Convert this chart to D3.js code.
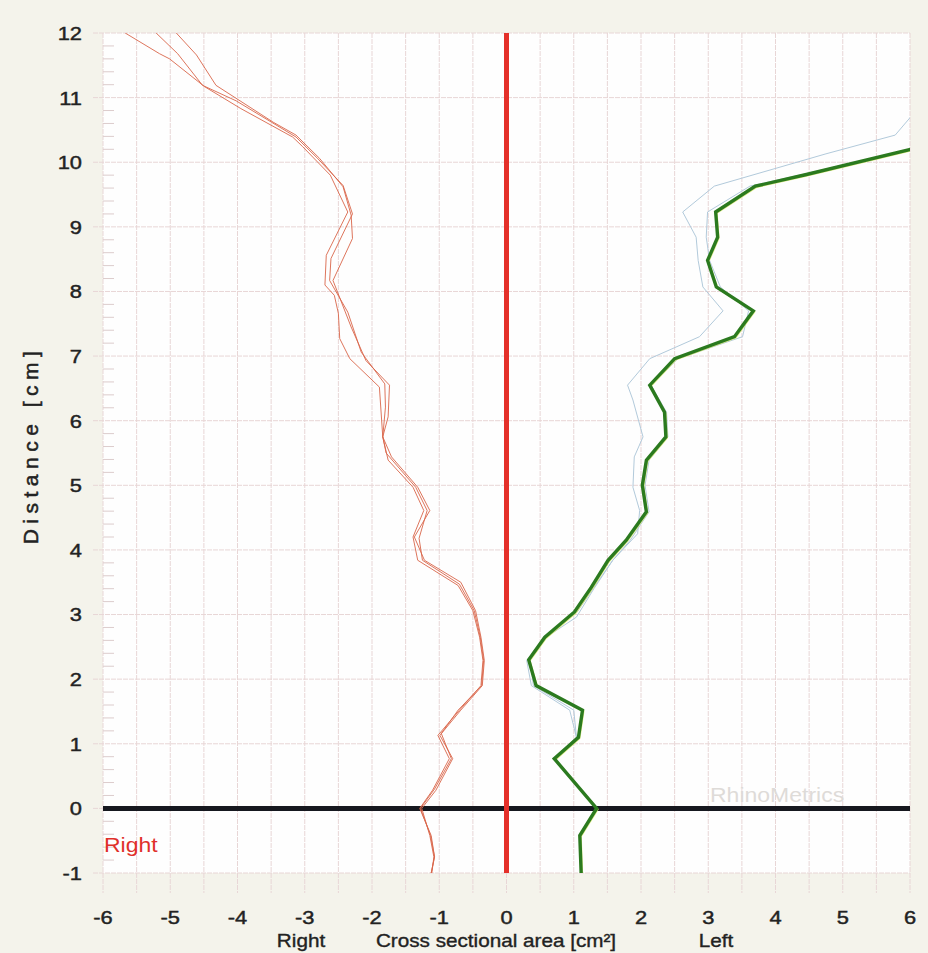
<!DOCTYPE html>
<html>
<head>
<meta charset="utf-8">
<script src="https://cdn.jsdelivr.net/npm/d3@7"></script>
<style>
  html, body { margin: 0; padding: 0; background: #f4f3eb; }
  svg { display: block; }
  text { font-family: "Liberation Sans", Arial, sans-serif; }
</style>
</head>
<body>
<div id="chart"></div>
<script>
// x ticks (cross sectional area, cm²) and y ticks (distance, cm)
const areaTicks = [-6, -5, -4, -3, -2, -1, 0, 1, 2, 3, 4, 5, 6];
const distanceTicks = [-1, 0, 1, 2, 3, 4, 5, 6, 7, 8, 9, 10, 11, 12];

// right side, three thin red measurements: [area, distance]
const right1 = [[-5.67,12.0],[-5.16,11.68],[-5.01,11.60],[-4.49,11.17],[-3.95,10.83],[-3.18,10.39],[-3.03,10.24],[-2.62,9.80],[-2.36,9.23],[-2.68,8.56],[-2.70,8.10],[-2.56,7.94],[-2.50,7.66],[-2.48,7.27],[-2.33,6.96],[-1.89,6.52],[-1.84,5.75],[-1.76,5.39],[-1.39,4.97],[-1.23,4.61],[-1.39,4.20],[-1.32,3.84],[-0.72,3.45],[-0.50,3.06],[-0.40,2.65],[-0.35,2.29],[-0.38,1.90],[-0.70,1.52],[-1.02,1.13],[-0.85,0.77],[-1.10,0.28],[-1.29,0.0],[-1.12,-0.42],[-1.07,-0.75],[-1.12,-1.0]];
const right2 = [[-5.21,12.0],[-4.89,11.68],[-4.52,11.19],[-4.02,10.95],[-3.13,10.39],[-2.81,10.06],[-2.43,9.64],[-2.29,9.20],[-2.61,8.51],[-2.63,8.17],[-2.36,7.68],[-2.16,7.06],[-1.81,6.57],[-1.80,6.21],[-1.84,5.75],[-1.71,5.44],[-1.32,4.97],[-1.14,4.61],[-1.37,4.20],[-1.22,3.84],[-0.68,3.50],[-0.46,3.06],[-0.38,2.65],[-0.33,2.29],[-0.36,1.90],[-0.68,1.52],[-0.99,1.13],[-0.80,0.77],[-1.05,0.28],[-1.26,0.0],[-1.14,-0.42],[-1.08,-0.75],[-1.11,-1.0]];
const right3 = [[-4.91,12.0],[-4.61,11.66],[-4.32,11.19],[-3.47,10.62],[-3.13,10.42],[-2.78,10.06],[-2.43,9.62],[-2.31,9.18],[-2.29,8.82],[-2.58,8.17],[-2.31,7.45],[-2.09,6.93],[-1.74,6.55],[-1.76,6.06],[-1.84,5.75],[-1.79,5.50],[-1.35,4.97],[-1.18,4.61],[-1.30,4.18],[-1.25,3.84],[-0.70,3.47],[-0.48,3.06],[-0.39,2.65],[-0.34,2.29],[-0.37,1.90],[-0.72,1.52],[-0.97,1.16],[-0.82,0.77],[-1.07,0.30],[-1.28,0.0],[-1.13,-0.42],[-1.07,-0.75],[-1.12,-1.0]];

// left side: two thin blue measurements and the bold green one
const leftBlueOuter = [[1.11,-1.0],[1.09,-0.42],[1.34,0.0],[0.71,0.77],[1.04,1.10],[0.94,1.52],[0.37,1.90],[0.30,2.29],[0.59,2.65],[1.04,2.96],[1.30,3.40],[1.58,3.84],[1.95,4.25],[1.98,4.61],[1.88,4.97],[1.90,5.44],[2.03,5.75],[1.88,6.32],[1.80,6.55],[2.13,6.96],[2.87,7.30],[3.22,7.70],[2.92,8.07],[2.85,8.48],[2.82,8.84],[2.62,9.23],[3.09,9.63],[4.75,10.13],[5.78,10.42],[6.05,10.75]];
const leftBlueInner = [[1.11,-1.0],[1.09,-0.42],[1.34,0.0],[0.71,0.77],[1.04,1.10],[1.00,1.52],[0.40,1.90],[0.35,2.30],[0.55,2.65],[1.05,3.04],[1.30,3.42],[1.58,3.84],[1.84,4.15],[2.12,4.59],[2.06,5.0],[2.12,5.39],[2.40,5.75],[2.38,6.13],[2.15,6.55],[2.55,6.96],[3.51,7.30],[3.60,7.70],[3.18,8.07],[3.02,8.48],[2.97,8.84],[2.99,9.23],[3.62,9.63],[4.40,9.81],[6.05,10.21]];
const leftMain = [[1.11,-1.0],[1.09,-0.42],[1.34,0.0],[0.71,0.77],[1.07,1.10],[1.13,1.52],[0.44,1.90],[0.33,2.30],[0.57,2.65],[1.01,3.04],[1.26,3.42],[1.51,3.84],[1.78,4.15],[2.08,4.59],[2.02,5.0],[2.08,5.39],[2.37,5.75],[2.35,6.13],[2.13,6.55],[2.50,6.96],[3.39,7.30],[3.67,7.70],[3.12,8.07],[2.99,8.48],[3.14,8.84],[3.11,9.23],[3.70,9.63],[4.46,9.81],[6.05,10.21]];

const width = 928, height = 953;
const plot = { left: 103, right: 910, top: 33, bottom: 873 };

const svg = d3.select("#chart").append("svg")
    .attr("width", width)
    .attr("height", height);

svg.append("rect").attr("width", width).attr("height", height).attr("fill", "#f4f3eb");

const x = d3.scaleLinear().domain([-6, 6]).range([plot.left, plot.right]);
const y = d3.scaleLinear().domain([-1, 12]).range([plot.bottom, plot.top]);

svg.append("rect")
    .attr("x", plot.left).attr("y", plot.top)
    .attr("width", plot.right - plot.left).attr("height", plot.bottom - plot.top)
    .attr("fill", "#fefefe");

const gridColor = "#e8d6d6";

// vertical grid every 0.5, running a little below the plot
const grid = svg.append("g");
grid.selectAll("line.v")
    .data(d3.range(-12, 13).map(d => d / 2))
    .join("line")
    .attr("x1", d => x(d)).attr("x2", d => x(d))
    .attr("y1", plot.top).attr("y2", plot.bottom + 20)
    .attr("stroke", gridColor).attr("stroke-width", 1)
    .attr("stroke-dasharray", "5,1");

// horizontal grid every 1 cm, poking out to the left
grid.selectAll("line.h")
    .data(distanceTicks)
    .join("line")
    .attr("x1", plot.left - 10).attr("x2", plot.right)
    .attr("y1", d => y(d)).attr("y2", d => y(d))
    .attr("stroke", gridColor).attr("stroke-width", 1)
    .attr("stroke-dasharray", "5,1");

// minor ticks on the left edge
const minor = d3.range(-5, 61).map(d => d / 5).filter(d => Math.abs(d - Math.round(d)) > 1e-6);
grid.selectAll("line.m")
    .data(minor)
    .join("line")
    .attr("x1", plot.left).attr("x2", plot.left + 11)
    .attr("y1", d => y(d)).attr("y2", d => y(d))
    .attr("stroke", "#dccccc").attr("stroke-width", 1);

// zero lines
svg.append("line")
    .attr("x1", plot.left).attr("x2", plot.right)
    .attr("y1", y(0)).attr("y2", y(0))
    .attr("stroke", "#16181f").attr("stroke-width", 5);
svg.append("line")
    .attr("x1", x(0)).attr("x2", x(0))
    .attr("y1", plot.top).attr("y2", plot.bottom)
    .attr("stroke", "#e4302a").attr("stroke-width", 5);

svg.append("defs").append("clipPath").attr("id", "plot-clip")
    .append("rect")
    .attr("x", plot.left).attr("y", plot.top)
    .attr("width", plot.right - plot.left).attr("height", plot.bottom - plot.top);

const line = d3.line().x(d => x(d[0])).y(d => y(d[1]));
const curves = svg.append("g").attr("clip-path", "url(#plot-clip)");

[right1, right2, right3].forEach(s => {
    curves.append("path").datum(s).attr("d", line)
        .attr("fill", "none").attr("stroke", "#d9664a")
        .attr("stroke-width", 1).attr("stroke-opacity", 0.9);
});

curves.append("path").datum(leftBlueOuter).attr("d", line)
    .attr("fill", "none").attr("stroke", "#b2cadb").attr("stroke-width", 1);
curves.append("path").datum(leftBlueInner).attr("d", line)
    .attr("fill", "none").attr("stroke", "#b2cadb").attr("stroke-width", 1);
curves.append("path").datum(leftMain).attr("d", line)
    .attr("fill", "none").attr("stroke", "#d8e86a").attr("stroke-width", 2)
    .attr("transform", "translate(1,1)").attr("stroke-opacity", 0.8);
curves.append("path").datum(leftMain).attr("d", line)
    .attr("fill", "none").attr("stroke", "#2b7a1f").attr("stroke-width", 3.4)
    .attr("stroke-linejoin", "miter");

// stretched text helper (the scan is a bit wide)
function label(txt, cx, cy, opts) {
    const fill = opts.fill || "#222";
    const t = svg.append("text")
        .attr("transform", `translate(${cx},${cy}) scale(${opts.sx || 1.15},1)`)
        .attr("text-anchor", opts.anchor || "middle")
        .attr("dominant-baseline", "central")
        .attr("font-size", opts.size)
        .attr("fill", fill)
        .text(txt);
    if (opts.heavy) t.attr("stroke", fill).attr("stroke-width", opts.heavy);
    return t;
}

distanceTicks.forEach(d => label(d, 82, y(d), { size: 19, anchor: "end", heavy: 0.45 }));
areaTicks.forEach(d => label(d, x(d), 917, { size: 19, heavy: 0.45 }));

label("Right", 301, 941, { size: 18, heavy: 0.35 });
label("Cross sectional area [cm²]", 496, 941, { size: 18, heavy: 0.35 });
label("Left", 716, 941, { size: 18, heavy: 0.35 });

svg.append("text")
    .attr("transform", `translate(30,445) rotate(-90)`)
    .attr("text-anchor", "middle")
    .attr("dominant-baseline", "central")
    .attr("font-size", 21)
    .attr("letter-spacing", 5.5)
    .attr("fill", "#222")
    .attr("stroke", "#222")
    .attr("stroke-width", 0.5)
    .text("Distance [cm]");

label("Right", 104, 845, { size: 20, anchor: "start", fill: "#e0302a" });
label("RhinoMetrics", 710, 795, { size: 20, anchor: "start", fill: "#dedbd8" });
</script>
</body>
</html>
